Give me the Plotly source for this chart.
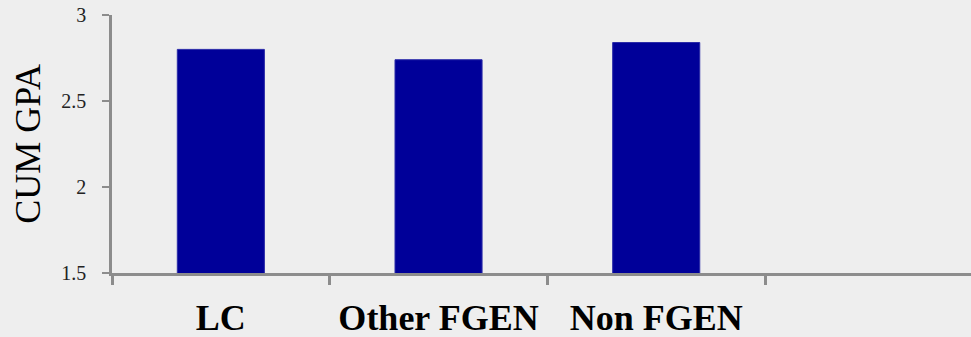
import plotly.graph_objects as go

categories = ["LC", "Other FGEN", "Non FGEN", " "]
cum_gpa = [2.80, 2.74, 2.84, None]
y_ticks = [1.5, 2, 2.5, 3]
y_tick_labels = ["1.5", "2", "2.5", "3"]

SERIF = "Liberation Serif, Times New Roman, serif"

fig = go.Figure(go.Bar(
    x=categories, y=cum_gpa,
    marker=dict(color="#000099", line=dict(color="#2a2aa8", width=1)),
    width=0.4,
))

fig.update_layout(
    width=971, height=337,
    margin=dict(l=112, r=0, t=15, b=64),
    paper_bgcolor="#eeeeee", plot_bgcolor="#eeeeee",
    showlegend=False,
    font=dict(family=SERIF, color="#000000"),
    bargap=0.6,
)
fig.update_xaxes(
    type="category", range=[-0.5, 3.446],
    showline=True, linecolor="#8c8c8c", linewidth=2.5,
    ticks="outside", tickson="boundaries", ticklen=9, tickwidth=2.5, tickcolor="#8c8c8c",
    tickfont=dict(size=36, family=SERIF, weight="bold", color="#000000"),
    showgrid=False, zeroline=False,
    ticklabelstandoff=11,
)
fig.update_yaxes(
    range=[1.5, 3], tickvals=y_ticks, ticktext=y_tick_labels,
    showline=True, linecolor="#8c8c8c", linewidth=2.5,
    ticks="outside", ticklen=7, tickwidth=2, tickcolor="#8c8c8c",
    tickfont=dict(size=20, family=SERIF, color="#222222"),
    showgrid=False, zeroline=False,
    ticklabelstandoff=12,
    title=dict(text="CUM GPA", font=dict(size=36, family=SERIF, color="#000000"), standoff=10),
)

fig.write_html(
    "out.html",
    config={"displayModeBar": False},
    post_script="document.body.style.margin='0px';document.documentElement.style.overflow='hidden';document.body.style.background='#eeeeee';",
)
